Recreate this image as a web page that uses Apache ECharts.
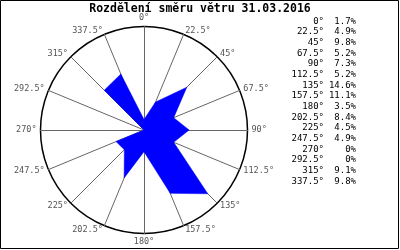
<!DOCTYPE html>
<html><head><meta charset="utf-8">
<script src="https://cdn.jsdelivr.net/npm/echarts@6/dist/echarts.min.js"></script>
<style>html,body{margin:0;padding:0;background:#fff}#c{width:400px;height:250px}</style>
</head><body><div id="c"></div>
<script>
var directions = [0, 22.5, 45, 67.5, 90, 112.5, 135, 157.5, 180, 202.5, 225, 247.5, 270, 292.5, 315, 337.5];
var frequencies = [1.7, 4.9, 9.8, 5.2, 7.3, 5.2, 14.6, 11.1, 3.5, 8.4, 4.5, 4.9, 0, 0, 9.1, 9.8];
var titleText = 'Rozdělení směru větru 31.03.2016';
var scaleMax = 16.75;

// radar lays indicators counter-clockwise; reorder for compass (clockwise)
var order = [0];
for (var k = directions.length - 1; k >= 1; k--) order.push(k);
var indicators = order.map(function (i) { return { name: directions[i] + '°', max: scaleMax, min: 0 }; });
var values = order.map(function (i) { return frequencies[i]; });

var graphics = [{
  type: 'rect', shape: { x: 0.5, y: 0.5, width: 398, height: 248 },
  style: { fill: 'none', stroke: '#000', lineWidth: 1 }, z: 100
}, {
  type: 'text', x: 200, y: 9, style: { text: titleText, textAlign: 'center', textVerticalAlign: 'middle', fontFamily: 'DejaVu Sans Mono', fontWeight: 'bold', fontSize: 11.5, fill: '#000' }
}];
directions.forEach(function (d, i) {
  var y = 21.5 + i * 10.65;
  graphics.push({ type: 'text', x: 324, y: y, style: { text: d + '°', textAlign: 'right', textVerticalAlign: 'middle', fontFamily: 'DejaVu Sans Mono', fontSize: 9, fill: '#000' } });
  var v = frequencies[i];
  graphics.push({ type: 'text', x: 356, y: y, style: { text: (v === 0 ? '0' : v.toFixed(1)) + '%', textAlign: 'right', textVerticalAlign: 'middle', fontFamily: 'DejaVu Sans Mono', fontSize: 9, fill: '#000' } });
});

var chart = echarts.init(document.getElementById('c'), null, { renderer: 'canvas' });
chart.setOption({
  animation: false,
  backgroundColor: '#fff',
  radar: {
    center: [144, 130], radius: 103.5, startAngle: 90, shape: 'circle', splitNumber: 1,
    indicator: indicators,
    axisName: { color: '#555', fontFamily: 'DejaVu Sans Mono', fontSize: 8.5 },
    nameGap: 4,
    axisLine: { lineStyle: { color: '#666', width: 1 } },
    splitLine: { lineStyle: { color: '#000', width: 1.5 } },
    splitArea: { show: false },
    axisTick: { show: false }, axisLabel: { show: false }
  },
  series: [{
    type: 'radar', symbol: 'none',
    lineStyle: { width: 0.5, color: '#0000ff' },
    areaStyle: { color: '#0000ff', opacity: 1 },
    data: [{ value: values }]
  }],
  graphic: graphics
});
</script></body></html>
